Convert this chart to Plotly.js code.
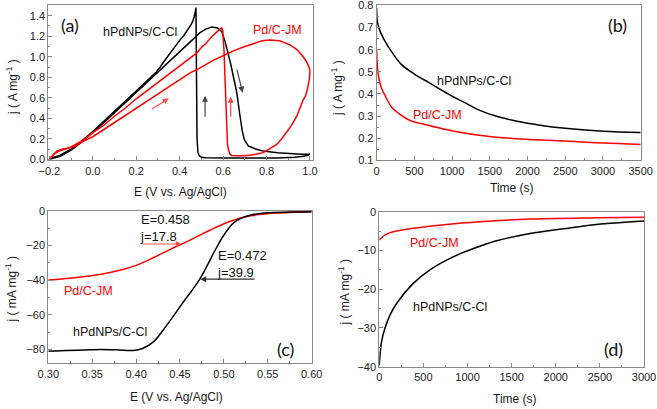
<!DOCTYPE html>
<html><head><meta charset="utf-8">
<script src="https://cdn.plot.ly/plotly-3.0.1.min.js"></script>
<style>html,body{margin:0;padding:0;background:#fff}#chart{width:657px;height:409px}</style>
</head><body><div id="chart"></div>
<script>
// ---------- Panel (a): cyclic voltammetry ----------
const aBlkFwdE = [-0.2,-0.17,-0.15,-0.12,-0.1,-0.05,0,0.05,0.1,0.15,0.2,0.25,0.29,0.33,0.363,0.40,0.432,0.465,0.494,0.52,0.548,0.575,0.594,0.609,0.622,0.635,0.648,0.663,0.678,0.688,0.698,0.716,0.75,0.785,0.85,0.908,0.96,1.0];
const aBlkFwdJ = [0,0.015,0.03,0.065,0.09,0.17,0.26,0.355,0.455,0.555,0.655,0.755,0.835,0.915,0.975,1.05,1.12,1.185,1.235,1.27,1.29,1.28,1.245,1.15,1.05,0.93,0.80,0.65,0.42,0.28,0.19,0.13,0.10,0.08,0.065,0.055,0.05,0.05];
const aBlkRevE = [1.0,0.99,0.97,0.93,0.85,0.7,0.6,0.52,0.5,0.49,0.484,0.48,0.478,0.477,0.476,0.475,0.472,0.467,0.46,0.45,0.44,0.42,0.40,0.389,0.36,0.337,0.31,0.29,0.25,0.2,0.15,0.1,0.05,0,-0.05,-0.1,-0.15,-0.2];
const aBlkRevJ = [0.05,0.04,0.03,0.02,0.013,0.01,0.012,0.015,0.02,0.035,0.07,0.2,0.6,1.0,1.3,1.48,1.44,1.39,1.345,1.305,1.27,1.21,1.16,1.13,1.05,0.98,0.9,0.845,0.765,0.665,0.565,0.465,0.365,0.27,0.18,0.1,0.04,0.005];
const aRedFwdE = [-0.2,-0.185,-0.166,-0.14,-0.12,-0.08,-0.05,0,0.05,0.1,0.15,0.2,0.25,0.3,0.35,0.4,0.45,0.478,0.55,0.6,0.65,0.7,0.752,0.78,0.816,0.86,0.908,0.94,0.969,0.985,0.997,1.0];
const aRedFwdJ = [0,0.04,0.08,0.1,0.105,0.13,0.17,0.22,0.29,0.36,0.43,0.5,0.57,0.64,0.71,0.78,0.845,0.873,0.96,1.01,1.06,1.10,1.14,1.155,1.164,1.155,1.116,1.07,1.0,0.95,0.89,0.86];
const aRedRevE = [1.0,0.997,0.99,0.98,0.969,0.955,0.939,0.915,0.893,0.87,0.847,0.815,0.785,0.75,0.724,0.69,0.655,0.64,0.632,0.625,0.62,0.617,0.613,0.608,0.604,0.598,0.594,0.575,0.55,0.52,0.5,0.478,0.45,0.4,0.35,0.3,0.25,0.2,0.15,0.1,0.05,0,-0.05,-0.1,-0.12,-0.15,-0.18,-0.2];
const aRedRevJ = [0.86,0.78,0.7,0.62,0.58,0.5,0.42,0.33,0.26,0.2,0.145,0.1,0.065,0.05,0.04,0.035,0.032,0.038,0.05,0.09,0.15,0.35,0.58,0.85,1.07,1.26,1.28,1.25,1.2,1.13,1.09,1.035,0.99,0.91,0.83,0.745,0.67,0.59,0.5,0.42,0.33,0.26,0.18,0.12,0.105,0.085,0.05,0.0];

// ---------- Panel (b): chronoamperometry ----------
const bBlkT = [0,5,20,50,100,200,323,500,700,1000,1200,1350,1600,2000,2500,3000,3500];
const bBlkJ = [0.79,0.74,0.71,0.68,0.645,0.59,0.535,0.49,0.45,0.39,0.355,0.328,0.298,0.268,0.245,0.232,0.226];
const bRedT = [0,10,30,60,100,200,300,443,600,885,1329,1772,2500,3000,3500];
const bRedJ = [0.6,0.52,0.47,0.43,0.40,0.34,0.31,0.28,0.265,0.242,0.215,0.20,0.187,0.178,0.172];

// ---------- Panel (c): ORR polarization ----------
const cRedE = [0.30,0.33,0.36,0.38,0.40,0.42,0.44,0.458,0.475,0.49,0.505,0.52,0.54,0.56,0.58,0.60];
const cRedJ = [-40,-38.6,-36.6,-34.5,-31.5,-27,-22,-17.8,-13.5,-9.8,-6.5,-4.0,-2.2,-1.3,-0.9,-0.6];
const cBlkE = [0.30,0.321,0.34,0.359,0.378,0.397,0.408,0.42,0.435,0.454,0.472,0.49,0.50,0.511,0.52,0.53,0.549,0.575,0.60];
const cBlkJ = [-81,-80.6,-80.3,-80,-80.2,-80.6,-79.3,-75.5,-66,-52.5,-39.9,-22.8,-14,-7,-4.3,-2.6,-1.2,-0.8,-0.6];

// ---------- Panel (d): ORR chronoamperometry ----------
const dRedT = [0,15,83,159,385,763,1141,1708,2463,3000];
const dRedJ = [-7.3,-6.9,-5.8,-5.2,-4.3,-3.3,-2.6,-1.9,-1.55,-1.4];
const dBlkT = [0,8,26,64,121,196,385,574,763,952,1141,1330,1708,2085,2463,3000];
const dBlkJ = [-39.7,-37,-33.5,-30.1,-26.7,-23.7,-18.5,-15,-12.5,-10.5,-8.9,-7.5,-5.6,-4.4,-3.3,-2.4];

// ---------- Text ----------
const titleE = 'E (V vs. Ag/AgCl)';
const titleT = 'Time (s)';
const titleJA = 'j ( A mg<sup>-1</sup> )';
const titleJmA = 'j ( mA mg<sup>-1</sup> )';
const nameH = 'hPdNPs/C-Cl';
const nameP = 'Pd/C-JM';

const FONT = 'Arial, "Liberation Sans", sans-serif';
const LAB = 'Lato, "Open Sans", sans-serif';
const BLACK = '#000000', RED = '#ff0000';

function line(x, y, color, xa, ya, smooth) {
  return {x: x, y: y, type: 'scatter', mode: 'lines', xaxis: xa, yaxis: ya,
          line: smooth ? {color: color, width: 1.5, shape: 'spline', smoothing: 1} : {color: color, width: 1.5},
          hoverinfo: 'skip'};
}
const data = [
  line(aBlkFwdE, aBlkFwdJ, BLACK, 'x', 'y', false),
  line(aBlkRevE, aBlkRevJ, BLACK, 'x', 'y', false),
  line(aRedFwdE, aRedFwdJ, RED, 'x', 'y', false),
  line(aRedRevE, aRedRevJ, RED, 'x', 'y', false),
  line(bBlkT, bBlkJ, BLACK, 'x2', 'y2', true),
  line(bRedT, bRedJ, RED, 'x2', 'y2', true),
  line(cRedE, cRedJ, RED, 'x3', 'y3', true),
  line(cBlkE, cBlkJ, BLACK, 'x3', 'y3', true),
  line(dRedT, dRedJ, RED, 'x4', 'y4', true),
  line(dBlkT, dBlkJ, BLACK, 'x4', 'y4', true)
];

const AX = '#8a8a8a';
function axis(o) {
  return {
    domain: o.domain, range: o.range, anchor: o.anchor, dtick: o.dtick, tick0: o.tick0,
    tickformat: o.fmt || '', showline: true, mirror: true, linecolor: AX, linewidth: 1,
    ticks: 'inside', ticklen: 4, tickcolor: AX, tickwidth: 1, showgrid: false, zeroline: false,
    tickfont: {family: FONT, size: 11, color: '#222'}, ticklabeloverflow: 'allow',
    minor: {ticks: 'inside', ticklen: 2, tickcolor: AX, dtick: o.minor, showgrid: false},
    automargin: false, fixedrange: true
  };
}

const layout = {
  width: 657, height: 409, margin: {l: 0, r: 0, t: 0, b: 0},
  paper_bgcolor: '#fff', plot_bgcolor: '#fff', showlegend: false,
  font: {family: FONT, color: '#222'},
  xaxis: axis({domain: [0.0735, 0.4764], range: [-0.205, 1.014], anchor: 'y', dtick: 0.2, tick0: 0, fmt: '.1f', minor: 0.1}),
  yaxis: axis({domain: [0.608, 0.9866], range: [-0.01, 1.5], anchor: 'x', dtick: 0.2, tick0: 0, fmt: '.1f', minor: 0.1}),
  xaxis2: axis({domain: [0.5733, 0.9752], range: [0, 3500], anchor: 'y2', dtick: 500, tick0: 0, minor: 250}),
  yaxis2: axis({domain: [0.608, 0.9866], range: [0.1, 0.8], anchor: 'x2', dtick: 0.1, tick0: 0, fmt: '.1f', minor: 0.05}),
  xaxis3: axis({domain: [0.0735, 0.4744], range: [0.30, 0.60], anchor: 'y3', dtick: 0.05, tick0: 0, fmt: '.2f', minor: 0.025}),
  yaxis3: axis({domain: [0.1117, 0.4848], range: [-88, 0], anchor: 'x3', dtick: 20, tick0: 0, minor: 10}),
  xaxis4: axis({domain: [0.5773, 0.9802], range: [0, 3000], anchor: 'y4', dtick: 500, tick0: 0, minor: 250}),
  yaxis4: axis({domain: [0.1034, 0.4824], range: [-40, 0], anchor: 'x4', dtick: 10, tick0: 0, minor: 5}),
  annotations: []
};

function txt(xr, yr, x, y, t, color, size, fam, xanchor) {
  return {xref: xr, yref: yr, x: x, y: y, text: t, showarrow: false,
          font: {family: fam || FONT, size: size || 12.5, color: color},
          xanchor: xanchor || 'center', yanchor: 'middle', align: 'left'};
}
function arrow(xr, yr, hx, hy, tx, ty, color) {
  return {xref: xr, yref: yr, axref: xr, ayref: yr, x: hx, y: hy, ax: tx, ay: ty, text: '',
          showarrow: true, arrowhead: 2, arrowsize: 1, arrowwidth: 1.2, arrowcolor: color};
}
// axis title placed at pixel centre (px, py) measured from the top-left of the figure
function axTitle(px, py, t, vertical) {
  return {xref: 'paper', yref: 'paper', x: px / 657, y: 1 - py / 409, text: t, showarrow: false,
          textangle: vertical ? -90 : 0, xanchor: 'center', yanchor: 'middle',
          font: {family: FONT, size: 12, color: '#1a1a1a'}};
}
const A = layout.annotations;
A.push(axTitle(180, 191.5, titleE, false));
A.push(axTitle(12, 87, titleJA, true));
A.push(axTitle(511.7, 188.3, titleT, false));
A.push(axTitle(337, 88, titleJA, true));
A.push(axTitle(176.7, 396.7, titleE, false));
A.push(axTitle(10.5, 290, titleJmA, true));
A.push(axTitle(515, 399, titleT, false));
A.push(axTitle(343.5, 293, titleJmA, true));
// panel a
A.push(txt('x', 'y', -0.105, 1.31, '(a)', '#111', 18, LAB));
A.push(txt('x', 'y', 0.217, 1.245, nameH, '#111'));
A.push(txt('x', 'y', 0.85, 1.26, nameP, RED));
A.push(arrow('x', 'y', 0.517, 0.62, 0.517, 0.40, '#444'));
A.push(arrow('x', 'y', 0.635, 0.61, 0.635, 0.40, '#ff4040'));
A.push(arrow('x', 'y', 0.69, 0.65, 0.662, 0.89, '#444'));
A.push(arrow('x', 'y', 0.35, 0.595, 0.266, 0.48, '#ff5050'));
// panel b
A.push(txt('x2', 'y2', 3190, 0.71, '(b)', '#111', 18, LAB));
A.push(txt('x2', 'y2', 1285, 0.457, nameH, '#111'));
A.push(txt('x2', 'y2', 800, 0.305, nameP, RED));
// panel c
A.push(txt('x3', 'y3', 0.4025, -10, 'E=0.458<br>j=17.8', '#111', 13, FONT, 'left'));
A.push(txt('x3', 'y3', 0.49, -30.5, 'E=0.472<br>j=39.9', '#111', 13, FONT, 'left'));
A.push(arrow('x3', 'y3', 0.452, -19.2, 0.406, -19.2, '#ff5050'));
A.push(arrow('x3', 'y3', 0.473, -39.5, 0.5366, -39.5, '#333'));
A.push(txt('x3', 'y3', 0.346, -46.3, nameP, RED));
A.push(txt('x3', 'y3', 0.37, -70, nameH, '#111'));
A.push(txt('x3', 'y3', 0.57, -80, '(c)', '#111', 18, LAB));
// panel d
A.push(txt('x4', 'y4', 630, -8.2, nameP, RED));
A.push(txt('x4', 'y4', 800, -24.5, nameH, '#111'));
A.push(txt('x4', 'y4', 2650, -35.4, '(d)', '#111', 18, LAB));

Plotly.newPlot('chart', data, layout, {staticPlot: true, displayModeBar: false});
</script></body></html>
